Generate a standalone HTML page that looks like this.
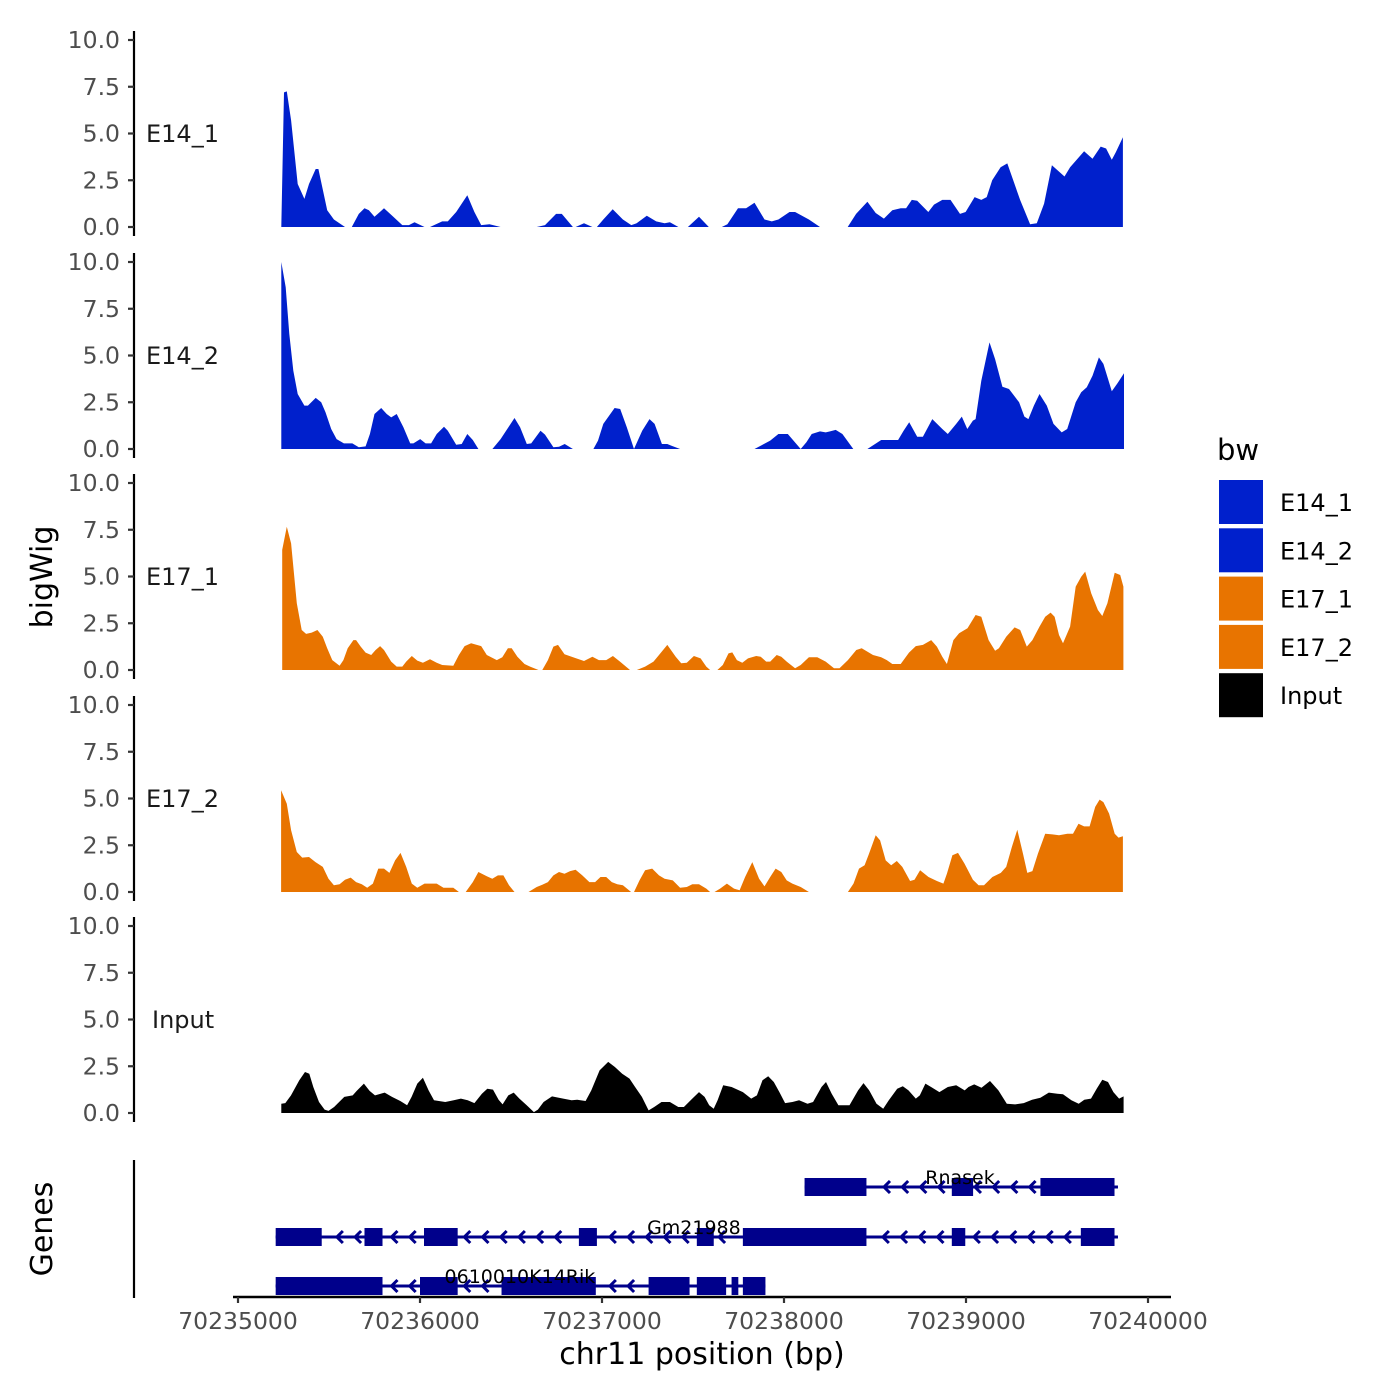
<!DOCTYPE html>
<html><head><meta charset="utf-8"><style>
html,body{margin:0;padding:0;background:#fff;}
svg{display:block;font-family:"DejaVu Sans","Liberation Sans",sans-serif;}
</style></head><body>
<svg id="chart" width="1400" height="1400" viewBox="0 0 1400 1400" xmlns="http://www.w3.org/2000/svg">
<rect width="1400" height="1400" fill="#fff"/>
<g id="tracks"></g>
<g id="genes"></g>
<g id="axes"></g>
<text transform="translate(52,577) rotate(-90)" text-anchor="middle" font-size="30" fill="#000">bigWig</text>
<text transform="translate(52,1229) rotate(-90)" text-anchor="middle" font-size="30" fill="#000">Genes</text>
<text x="702" y="1364" text-anchor="middle" font-size="30" fill="#000">chr11 position (bp)</text>
<g id="legend">
<text x="1217" y="460" font-size="29" fill="#000">bw</text>
</g>
</svg>
<script>
// genomic positions are offsets (bp) from 70235000
const E14_1_pos=[238,253,268,292,328,365,390,427,442,466,490,527,588,null,625,664,695,719,750,802,847,903,939,970,1025,null,1055,1122,1153,1199,1260,1299,1336,1382,1443,null,1641,1687,1748,1779,1840,null,1855,1901,1947,null,1972,2007,2059,2115,2161,2190,2246,2298,2344,2373,2420,null,2472,2533,2587,null,2658,2689,2747,2792,2838,2893,2933,2969,3030,3061,3137,3198,null,3350,3396,3458,3504,3549,3595,3641,3671,3702,3732,3793,3824,3870,3915,3967,3998,4047,4084,4114,4144,4190,4227,4297,4352,4389,4429,4472,4495,4541,4572,4649,4695,4740,4770,4801,4823,4862];
const E14_1_val=[0,7.2,7.25,5.7,2.3,1.5,2.3,3.1,3.1,2.0,0.9,0.4,0,null,0,0.7,1.0,0.9,0.55,1.0,0.6,0.1,0.1,0.25,0,null,0,0.3,0.3,0.8,1.7,0.8,0.1,0.15,0,null,0,0.1,0.7,0.7,0,null,0,0.2,0,null,0,0.4,0.95,0.4,0.1,0.2,0.6,0.3,0.2,0.25,0,null,0,0.55,0,null,0,0.15,1.0,1.0,1.3,0.4,0.3,0.4,0.8,0.8,0.4,0,null,0,0.7,1.35,0.75,0.45,0.9,1.0,1.0,1.45,1.4,0.8,1.2,1.45,1.45,0.7,0.8,1.6,1.45,1.6,2.5,3.2,3.4,1.45,0.15,0.2,1.25,3.3,3.1,2.7,3.2,4.05,3.65,4.3,4.2,3.6,4.0,4.8];
const E14_2_pos=[238,262,282,304,328,365,384,427,457,481,512,542,582,628,664,701,725,750,787,817,842,872,909,946,964,1001,1031,1061,1092,1132,1153,1199,1229,1260,1290,1321,null,1398,1443,1473,1519,1550,1587,1611,1662,1687,1733,1764,1795,1840,null,1953,1978,2007,2069,2100,2136,2176,2221,2261,2289,2329,2359,2380,2429,null,2838,2924,2969,3021,3092,3123,3152,3198,3229,3253,3284,3321,3381,null,3458,3534,3627,3657,3688,3732,3763,3815,3870,3900,3946,3977,4007,4038,4053,4084,4129,4160,4200,4236,4292,4321,4343,4373,4404,4444,4481,4526,4556,4603,4633,4664,4695,4730,4755,4801,4832,4868];
const E14_2_val=[10.0,8.65,6.15,4.19,2.94,2.32,2.32,2.73,2.5,1.96,1.07,0.53,0.3,0.3,0.09,0.14,0.8,1.87,2.19,1.87,1.69,1.87,1.16,0.3,0.3,0.53,0.3,0.3,0.8,1.19,0.98,0.23,0.27,0.8,0.48,0,null,0,0.53,0.98,1.66,1.16,0.27,0.3,0.98,0.77,0.09,0.12,0.27,0,null,0,0.45,1.34,2.19,2.14,1.16,0,0.98,1.6,1.34,0.27,0.27,0.18,0,null,0,0.45,0.8,0.8,0,0.36,0.8,0.94,0.89,0.94,1.02,0.8,0,null,0,0.48,0.48,0.98,1.43,0.66,0.66,1.6,1.07,0.8,1.34,1.73,1.07,1.52,1.6,3.65,5.7,4.81,3.33,3.21,2.5,1.73,1.6,2.32,2.94,2.32,1.34,0.89,1.07,2.5,3.03,3.3,3.92,4.9,4.55,3.09,3.51,4.05];
const E17_1_pos=[243,268,292,323,350,374,405,436,466,490,518,558,579,603,634,649,674,701,732,756,781,802,842,872,903,924,955,985,1016,1055,1092,1122,1183,1214,1245,1281,1336,1367,1422,1452,1483,1504,1535,1574,1605,1651,null,1672,1703,1733,1758,1794,1849,1901,1947,1983,2023,2060,2099,2154,null,2191,2237,2283,2313,2359,2405,2435,2466,2505,2542,2573,2594,null,2634,2664,2695,2716,2741,2771,2802,2847,2872,2902,2924,2960,2985,3015,3061,3092,3137,3183,3229,3275,3305,3351,3397,3427,3489,3534,3565,3595,3641,3687,3724,3763,3809,3840,3870,3895,3931,3962,4008,4053,4084,4124,4160,4181,4221,4267,4298,4334,4365,4404,4435,4465,4487,4511,4533,4572,4603,4633,4655,4688,4725,4749,4777,4817,4847,4865];
const E17_1_val=[6.42,7.66,6.77,3.57,2.14,1.93,2.0,2.14,1.78,1.16,0.53,0.23,0.53,1.16,1.6,1.6,1.25,0.93,0.8,1.07,1.28,1.07,0.45,0.18,0.18,0.45,0.75,0.5,0.39,0.57,0.39,0.27,0.23,0.8,1.28,1.43,1.28,0.8,0.53,0.68,1.16,1.16,0.71,0.32,0.18,0,null,0,0.53,1.25,1.34,0.84,0.66,0.48,0.71,0.53,0.53,0.75,0.45,0,null,0,0.18,0.45,0.8,1.34,0.71,0.36,0.39,0.75,0.62,0.18,0,null,0,0.27,0.89,0.94,0.53,0.39,0.62,0.75,0.71,0.45,0.45,0.8,0.71,0.45,0.09,0.27,0.68,0.68,0.45,0.09,0.09,0.53,1.07,1.16,0.8,0.68,0.53,0.32,0.32,0.93,1.28,1.34,1.6,1.25,0.71,0.32,1.6,1.96,2.23,2.94,2.85,1.6,1.03,1.16,1.78,2.28,2.14,1.25,1.6,2.32,2.85,3.07,2.85,1.87,1.43,2.32,4.46,4.99,5.26,4.1,3.21,2.89,3.57,5.2,5.08,4.46];
const E17_2_pos=[237,268,292,323,353,390,426,466,497,527,558,588,619,649,680,710,741,771,802,832,863,893,924,955,985,1025,1092,1129,1183,1214,null,1251,1290,1321,1367,1397,1428,1458,1489,1519,null,1596,1641,1672,1703,1733,1764,1794,1825,1855,1892,1931,1962,1992,2023,2054,2084,2115,2160,null,2176,2206,2237,2276,2313,2344,2389,2429,2466,2496,2533,2573,2594,null,2618,2649,2686,2725,2756,2786,2826,2863,2893,2924,2954,2985,3015,3046,3092,3137,null,3351,3382,3412,3443,3467,3504,3528,3559,3589,3620,3650,3693,3717,3748,3794,3840,3876,3895,3925,3956,3992,4038,4069,4099,4145,4191,4221,4252,4282,4313,4337,4365,4395,4435,4475,4511,4557,4588,4618,4649,4679,4710,4734,4755,4786,4817,4838,4862];
const E17_2_val=[5.44,4.72,3.3,2.14,1.84,1.87,1.6,1.34,0.71,0.36,0.41,0.66,0.77,0.53,0.41,0.23,0.45,1.25,1.25,1.02,1.69,2.09,1.34,0.45,0.23,0.45,0.45,0.23,0.23,0,null,0,0.53,1.07,0.84,0.71,0.89,0.89,0.36,0,null,0,0.27,0.39,0.53,0.89,1.07,0.98,1.12,1.19,0.89,0.53,0.53,0.8,0.8,0.53,0.41,0.36,0,null,0,0.62,1.16,1.25,0.89,0.71,0.62,0.23,0.27,0.41,0.41,0.18,0,null,0,0.18,0.45,0.18,0.09,0.8,1.6,0.71,0.3,0.8,1.25,1.07,0.62,0.45,0.27,0,null,0,0.45,1.25,1.43,2.05,3.03,2.76,1.69,1.43,1.66,1.34,0.59,0.66,1.16,0.8,0.59,0.45,0.98,1.96,2.09,1.52,0.66,0.36,0.36,0.8,1.02,1.34,2.41,3.33,2.05,1.02,1.12,2.05,3.12,3.08,3.03,3.12,3.12,3.65,3.51,3.51,4.55,4.94,4.81,4.19,3.12,2.91,2.98];
const Input_pos=[238,260,291,337,368,392,414,445,476,497,528,584,630,652,692,723,753,806,846,892,929,954,985,1016,1047,1077,1139,1185,1225,1262,1299,1340,1370,1401,1432,1454,1485,1515,1546,1586,1626,1648,1679,1725,1787,1833,1864,1910,1941,1987,2034,2071,2111,2151,2182,2219,2256,2287,2327,2373,2419,2450,2496,2533,2564,2589,2614,2635,2666,2712,2774,2820,2851,2882,2913,2944,2975,3006,3046,3083,3129,3160,3206,3231,3262,3299,3360,3407,3437,3468,3508,3545,3576,3622,3653,3684,3724,3746,3777,3808,3854,3900,3946,3993,4014,4045,4085,4132,4178,4224,4270,4317,4363,4409,4455,4502,4533,4579,4619,4650,4687,4718,4749,4780,4810,4841,4866];
const Input_val=[0.5,0.53,0.94,1.75,2.19,2.1,1.39,0.59,0.18,0.11,0.32,0.86,0.94,1.18,1.57,1.18,0.94,1.09,0.86,0.64,0.41,0.86,1.57,1.89,1.21,0.68,0.59,0.68,0.77,0.68,0.53,1.03,1.3,1.25,0.71,0.46,0.94,1.09,0.77,0.41,0.05,0.18,0.59,0.89,0.77,0.68,0.71,0.64,1.21,2.28,2.73,2.46,2.1,1.84,1.39,0.86,0.14,0.32,0.59,0.59,0.32,0.32,0.77,1.12,0.86,0.41,0.23,0.68,1.48,1.39,1.12,0.77,0.94,1.75,1.96,1.66,1.12,0.53,0.59,0.68,0.5,0.59,1.39,1.66,1.03,0.41,0.41,1.21,1.6,1.21,0.5,0.23,0.68,1.3,1.43,1.21,0.77,0.94,1.57,1.39,1.12,1.39,1.48,1.21,1.39,1.53,1.35,1.71,1.21,0.5,0.46,0.53,0.71,0.82,1.09,1.03,1.0,0.68,0.5,0.71,0.77,1.3,1.78,1.66,1.12,0.77,0.89];
const trackNames=["E14_1","E14_2","E17_1","E17_2","Input"];
const trackColors=["#0020CC","#0020CC","#E87400","#E87400","#000000"];
const yTicks=[0,2.5,5,7.5,10];
const yTickLabels=["0.0","2.5","5.0","7.5","10.0"];
const xTicks=[0,1000,2000,3000,4000,5000];
const xTickLabels=["70235000","70236000","70237000","70238000","70239000","70240000"];
const geneNames=["Rnasek","Gm21988","0610010K14Rik"];
const geneStart=[3113,207,207];
const geneEnd=[4835,4835,2898];
const geneLabelPos=[3967,2505,1549];
const rnasekExons=[[3113,3453],[3922,4039],[4409,4816]];
const gm21988Exons=[[207,460],[695,794],[1022,1207],[1873,1972],[2521,2614],[2774,3453],[3922,3996],[4631,4816]];
const rikExons=[[207,794],[1000,1207],[1448,1966],[2256,2481],[2521,2682],[2712,2749],[2774,2898]];

const NS="http://www.w3.org/2000/svg";
function mk(tag,attrs,parent){const e=document.createElementNS(NS,tag);for(const k in attrs)e.setAttribute(k,attrs[k]);parent.appendChild(e);return e;}
const xS=bp=>238+bp*0.182;
const panelBase=[227,449,670,892,1113];
const yS=(v,p)=>panelBase[p]-v*18.7;
const tracksG=document.getElementById('tracks'),axesG=document.getElementById('axes'),genesG=document.getElementById('genes'),legendG=document.getElementById('legend');
const allPos=[E14_1_pos,E14_2_pos,E17_1_pos,E17_2_pos,Input_pos];
const allVal=[E14_1_val,E14_2_val,E17_1_val,E17_2_val,Input_val];
allPos.forEach((pos,p)=>{
  const vals=allVal[p];let segs=[],cur=[];
  pos.forEach((b,i)=>{if(b===null){if(cur.length)segs.push(cur);cur=[];}else cur.push([b,vals[i]]);});
  if(cur.length)segs.push(cur);
  segs.forEach((s,si)=>{
    let d="M"+xS(s[0][0]).toFixed(1)+","+panelBase[p];
    s.forEach(q=>{d+="L"+xS(q[0]).toFixed(1)+","+yS(q[1],p).toFixed(1);});
    d+="L"+xS(s[s.length-1][0]).toFixed(1)+","+panelBase[p]+"Z";
    const a=mk('path',{d:d,fill:trackColors[p]},tracksG);
    
    
  });
  const ax=mk('line',{x1:134,x2:134,y1:panelBase[p]+9,y2:panelBase[p]-196,stroke:'#000','stroke-width':2.2},axesG);
  
  
  yTicks.forEach((t,ti)=>{
    const y=yS(t,p);
    const tk=mk('line',{x1:128,x2:134,y1:y,y2:y,stroke:'#333','stroke-width':2.2},axesG);
    
    
    const tl=mk('text',{x:120,y:y+8,'text-anchor':'end','font-size':23.5,fill:'#4d4d4d'},axesG);
    tl.textContent=yTickLabels[ti];
    
    
  });
  const lb=mk('text',{x:trackNames[p]==="Input"?152:146,y:panelBase[p]-85,'font-size':24,fill:'#1a1a1a'},axesG);
  lb.textContent=trackNames[p];
  
  
  const ky=480+p*48.3;
  const lk=mk('rect',{x:1219,y:ky,width:44,height:44,fill:trackColors[p]},legendG);
  
  
  const lt=mk('text',{x:1280,y:ky+31,'font-size':24,fill:'#000'},legendG);
  lt.textContent=trackNames[p];
  
  
});
const gax=mk('line',{x1:134,x2:134,y1:1160,y2:1298,stroke:'#000','stroke-width':2.2},axesG);


const xax=mk('line',{x1:233,x2:1171,y1:1297,y2:1297,stroke:'#000','stroke-width':2.4},axesG);


xTicks.forEach((t,i)=>{
  const x=xS(t);
  const tk=mk('line',{x1:x,x2:x,y1:1297,y2:1303,stroke:'#333','stroke-width':2.2},axesG);
  
  
  const tl=mk('text',{x:x,y:1329,'text-anchor':'middle','font-size':23.5,fill:'#4d4d4d'},axesG);
  tl.textContent=xTickLabels[i];
  
  
});
const geneY=[1187,1237,1286];
const geneExons=[rnasekExons,gm21988Exons,rikExons];
const gc="#00008B";
geneNames.forEach((g,gi)=>{
  const y=geneY[gi];const grp=mk('g',{},genesG);
  
  
  mk('line',{x1:xS(geneStart[gi]),x2:xS(geneEnd[gi]),y1:y,y2:y,stroke:gc,'stroke-width':3},grp);
  const ex=geneExons[gi];
  for(let b=geneStart[gi]+50;b<geneEnd[gi]-30;b+=100){
    if(ex.some(e=>b>e[0]-20&&b<e[1]+20))continue;
    const x=xS(b);
    mk('path',{d:`M${x+3.5},${y-6}L${x-2.5},${y}L${x+3.5},${y+6}`,fill:'none',stroke:gc,'stroke-width':3},grp);
  }
  ex.forEach(e=>{
    const r=mk('rect',{x:xS(e[0]),y:y-9,width:xS(e[1])-xS(e[0]),height:18,fill:gc},grp);
    
    
  });
  const t=mk('text',{x:xS(geneLabelPos[gi]),y:y-3,'text-anchor':'middle','font-size':19,fill:'#000'},grp);
  t.textContent=g;
  
  
});
</script>
</body></html>
